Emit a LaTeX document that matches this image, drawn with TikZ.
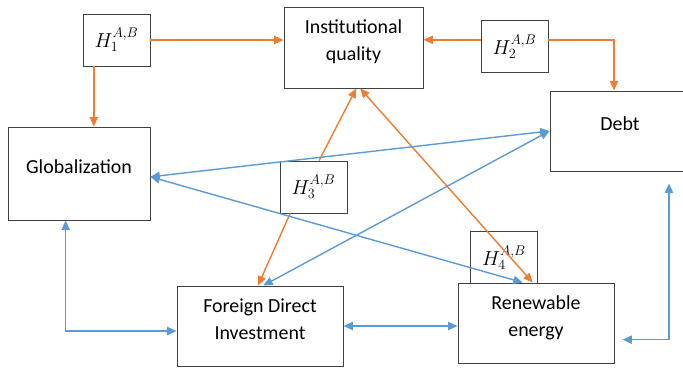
\documentclass[tikz,border=0pt]{standalone}
\usepackage{fontspec}
\setmainfont{Carlito}
\usepackage{tikz}
\usetikzlibrary{arrows.meta}
\definecolor{naranja}{HTML}{ED7D31}
\definecolor{azul}{HTML}{5B9BD5}
\tikzstyle{box}=[rectangle,draw=black!75,fill=white,line width=0.8pt,align=center,text depth=12pt]
\tikzstyle{hyp}=[rectangle,draw=black!75,fill=white,line width=0.8pt,minimum width=2.01cm,minimum height=1.56cm]
\tikzstyle{org}=[draw=naranja,line width=1.2pt]
\tikzstyle{blu}=[draw=azul,line width=1.2pt]

\begin{document}
\begin{tikzpicture}[x=0.03cm,y=-0.03cm,font=\fontsize{17}{23}\selectfont]
	\useasboundingbox (0,0) rectangle (683,370);
	\begin{scope}[>={Triangle[length=8pt,width=7pt]}]
		\node[box,minimum width=4.17cm,minimum height=2.43cm]
				(iq)	at (353.5,47.5)	{Institutional\\quality};
		\node[hyp]	(h1)	at (116.5,40)	{$H_1^{A,B}$};
		\node[hyp]	(h2)	at (514.5,46.5)	{$H_2^{A,B}$};
		\node[box,minimum width=4.2cm,minimum height=2.4cm]
				(debt)	at (620,131)	{Debt};
		\node[box,minimum width=4.26cm,minimum height=2.79cm]
				(glob)	at (79,173.5)	{Globalization};
		\node[hyp]	(h3)	at (313.5,187)	{$H_3^{A,B}$};
		\node[box,minimum width=4.98cm,minimum height=2.4cm]
				(fdi)	at (260,326)	{Foreign Direct\\Investment};
		\node[hyp]	(h4)	at (504,257.5)	{$H_4^{A,B}$};
		\node[box,minimum width=4.68cm,minimum height=2.4cm]
				(ren)	at (536,323)	{Renewable\\energy};
		\coordinate	(dtip)	at ([xshift=1.47cm,yshift=-0.36cm]debt.south);
		\coordinate	(rtip)	at ([xshift=0.24cm,yshift=-0.5cm]ren.east);
		% hipotesis
		\draw[org,->]	(h1.east) -- (h1.east -| iq.west);
		\draw[org,->]	([xshift=-0.68cm]h1.south) -- ([xshift=-0.68cm]h1.south |- glob.north);
		\draw[org,->]	([yshift=0.2cm]h2.west) -- ([yshift=0.2cm]h2.west -| iq.east);
		\draw[org,->]	([yshift=0.2cm]h2.east) -| ([xshift=-0.18cm]debt.north);
		\draw[org,->]	([xshift=0.17cm]h3.north) -- ([xshift=0.08cm]iq.south);
		\draw[org,->]	([xshift=-0.7cm]h3.south) -- ([xshift=-0.06cm]fdi.north);
		\draw[org,<->]	([xshift=0.2cm]iq.south) -- ([xshift=-0.1cm]ren.north);
		% relaciones
		\draw[blu,<->]	([yshift=-0.1cm]glob.east) -- (debt.west);
		\draw[blu,<->]	([yshift=-0.1cm]glob.east) -- ([xshift=-0.4cm]ren.north);
		\draw[blu,<->]	([xshift=0.1cm]fdi.north) -- (debt.west);
		\draw[blu,<->]	([xshift=-0.4cm]glob.south) |- ([yshift=-0.15cm]fdi.west);
		\draw[blu,<->]	(fdi.east) -- (fdi.east -| ren.west);
		\draw[blu,<->]	(dtip) |- (rtip);
	\end{scope}
\end{tikzpicture}
\end{document}
